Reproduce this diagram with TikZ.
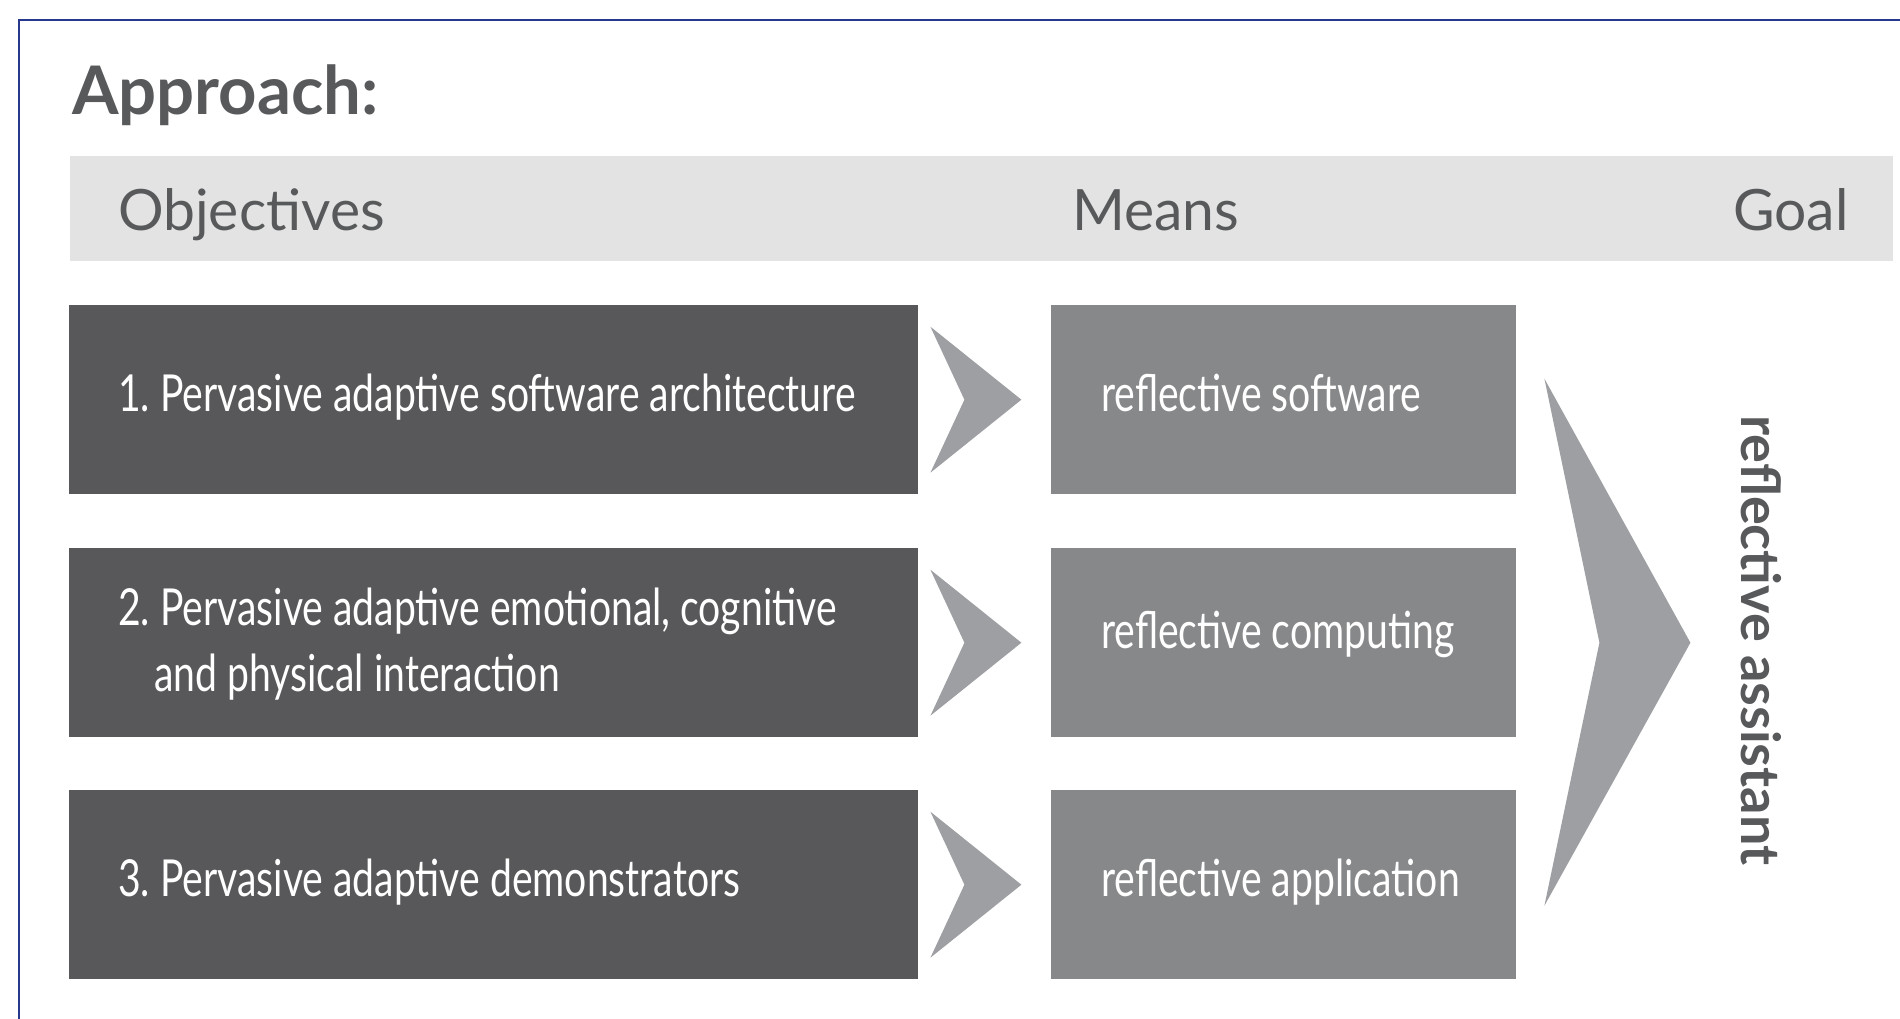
\documentclass[tikz,border=0pt]{standalone}
\usepackage{fontspec}
\setmainfont{Lato}
\newfontfamily\narrowfont[FakeStretch=0.767]{Lato}
\frenchspacing
\usepackage{tikz}
\usetikzlibrary{positioning,calc}

\definecolor{frameblue}{RGB}{40,56,140}
\definecolor{headgray}{RGB}{88,89,91}
\definecolor{barfill}{RGB}{226,227,226}
\definecolor{objgray}{RGB}{88,88,90}
\definecolor{meangray}{RGB}{135,136,138}
\definecolor{chevgray}{RGB}{157,159,162}

\begin{document}
\begin{tikzpicture}[x=1pt,y=-1pt,
    objbox/.style={fill=objgray, anchor=north west, inner sep=0pt,
        minimum width=849pt, minimum height=189pt},
    meanbox/.style={fill=meangray, anchor=north west, inner sep=0pt,
        minimum width=465pt, minimum height=189pt},
    boxtext/.style={text=white, anchor=base west, align=left, inner sep=0pt,
        font=\narrowfont\fontsize{51}{66.5}\selectfont},
    headtext/.style={text=headgray, anchor=base west, inner sep=0pt,
        font=\fontsize{57}{68}\selectfont},
    chevron/.style={fill=chevgray}]

        % Fix the page size
        \useasboundingbox (0,0) rectangle (1900,1019);

        % Frame (only its top and left edges are visible)
        \draw[frameblue, line width=2.5pt] (1900,20) -- (19,20) -- (19,1019);

        % Title
        \node[text=headgray, anchor=base west, inner sep=0pt,
            font=\bfseries\fontsize{67}{80}\selectfont] (title) at (72,115) {Approach:};

        % Header bar with the column names
        \node[fill=barfill, anchor=north west, inner sep=0pt,
            minimum width=1823pt, minimum height=105pt] (bar) at (70,156) {};
        \node[headtext] (objectives) at (118,230) {Objectives};
        \node[headtext] (means) at (1072,230) {Means};
        \node[headtext] (goal) at (1733,230) {Goal};

        % Objectives
        \node[objbox] (obj1) at (69,305) {};
        \node[objbox] (obj2) at (69,548) {};
        \node[objbox] (obj3) at (69,790) {};
        \node[boxtext] (obj1text) at ($(obj1.west)+(49,12)$) {1. Pervasive adaptive software architecture};
        \node[boxtext, anchor=west] (obj2text) at ($(obj2.west)+(49,1.5)$)
            {2. Pervasive adaptive emotional, cognitive\\\hspace*{36pt}and physical interaction};
        \node[boxtext] (obj3text) at ($(obj3.west)+(49,12)$) {3. Pervasive adaptive demonstrators};

        % Means
        \node[meanbox] (mean1) at (1051,305) {};
        \node[meanbox] (mean2) at (1051,548) {};
        \node[meanbox] (mean3) at (1051,790) {};
        \node[boxtext] (mean1text) at ($(mean1.west)+(50,12)$) {reflective software};
        \node[boxtext] (mean2text) at ($(mean2.west)+(50,6)$) {reflective computing};
        \node[boxtext] (mean3text) at ($(mean3.west)+(50,12)$) {reflective application};

        % Chevrons from each objective to its means
        \foreach \i in {1,2,3}
            \fill[chevron] ($(obj\i.east)+(12,-73)$) -- ($(obj\i.east)+(103,0)$)
                -- ($(obj\i.east)+(12,73)$) -- ($(obj\i.east)+(46,0)$) -- cycle;

        % Big chevron towards the goal
        \fill[chevron] ($(mean2.east)+(28,-264)$) -- ($(mean2.east)+(174,0)$)
            -- ($(mean2.east)+(28,263)$) -- ($(mean2.east)+(83,0)$) -- cycle;

        % Goal, written downwards
        \node[text=headgray, rotate=-90, anchor=base west, inner sep=0pt,
            font=\bfseries\fontsize{54}{64}\selectfont] (assistant) at (1741,415) {reflective assistant};

    \end{tikzpicture}
\end{document}
